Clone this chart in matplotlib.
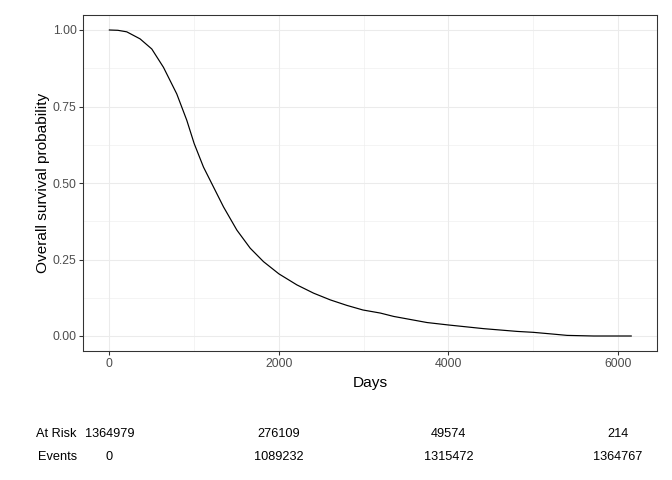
import numpy as np
import matplotlib.pyplot as plt

## Survival curve ##
days = [0, 100, 205, 362, 500, 638, 795, 913, 1000, 1110, 1228, 1346, 1504,
        1661, 1818, 2000, 2212, 2409, 2606, 2802, 2991, 3196, 3353, 3747,
        4000, 4416, 4810, 5000, 5223, 5400, 5714, 6156]
surv = [1.0, 0.999, 0.994, 0.971, 0.938, 0.878, 0.791, 0.705, 0.629, 0.552,
        0.487, 0.422, 0.346, 0.287, 0.243, 0.203, 0.167, 0.140, 0.118, 0.100,
        0.085, 0.075, 0.064, 0.044, 0.036, 0.024, 0.015, 0.012, 0.0065,
        0.002, 0.0, 0.0]

## Risk table ##
table_times = [0, 2000, 4000, 6000]
at_risk = [1364979, 276109, 49574, 214]
events = [0, 1089232, 1315472, 1364767]
row_labels = ["At Risk", "Events"]

x_ticks = [0, 2000, 4000, 6000]
y_ticks = [0.0, 0.25, 0.5, 0.75, 1.0]

plt.rcParams['font.family'] = ['Liberation Sans', 'DejaVu Sans']

W, H = 672, 480
fig = plt.figure(figsize=(W / 96, H / 96), dpi=96)

##Main panel##
l, r, t, b = 83.3, 657.3, 14.7, 351.3
ax = fig.add_axes([l / W, 1 - b / H, (r - l) / W, (b - t) / H])
ax.plot(days, surv, color="black", lw=0.9, zorder=3)

xspan = max(days) - min(days)
xlim = (min(days) - 0.05 * xspan, max(days) + 0.05 * xspan)
ax.set_xlim(xlim)
ax.set_ylim(-0.05, 1.05)
ax.set_xticks(x_ticks)
ax.set_xticklabels([str(v) for v in x_ticks])
ax.set_yticks(y_ticks)
ax.set_yticklabels(["%.2f" % v for v in y_ticks])
ax.set_xticks([1000, 3000, 5000], minor=True)
ax.set_yticks([0.125, 0.375, 0.625, 0.875], minor=True)
ax.grid(which="major", color="#EBEBEB", lw=0.8, zorder=0)
ax.grid(which="minor", color="#EBEBEB", lw=0.4, zorder=0)
ax.set_axisbelow(True)
for s in ax.spines.values():
    s.set_color("#333333")
    s.set_linewidth(0.8)
ax.tick_params(which="major", length=2.75, width=0.8, color="#333333",
               labelcolor="#4D4D4D", labelsize=9.2, pad=2.2)
ax.tick_params(which="minor", length=0)
ax.set_xlabel("Days", fontsize=11.5, color="black", labelpad=4.5)
ax.set_ylabel("Overall survival probability", fontsize=11.5, color="black",
              labelpad=2)

##Risk table, same x scale as the panel##
tab = fig.add_axes([l / W, 0, (r - l) / W, 1], facecolor="none")
tab.set_xlim(xlim)
tab.set_ylim(H, 0)
tab.axis("off")
for row_y, vals in zip([434, 456.5], [at_risk, events]):
    for tt, v in zip(table_times, vals):
        tab.text(tt, row_y, str(v), ha="center", va="center", fontsize=9.6,
                 color="black")
for row_y, lab in zip([434, 456.5], row_labels):
    fig.text(77 / W, 1 - row_y / H, lab, ha="right", va="center",
             fontsize=9.6, color="black")

fig.savefig("out.png", dpi=96)
